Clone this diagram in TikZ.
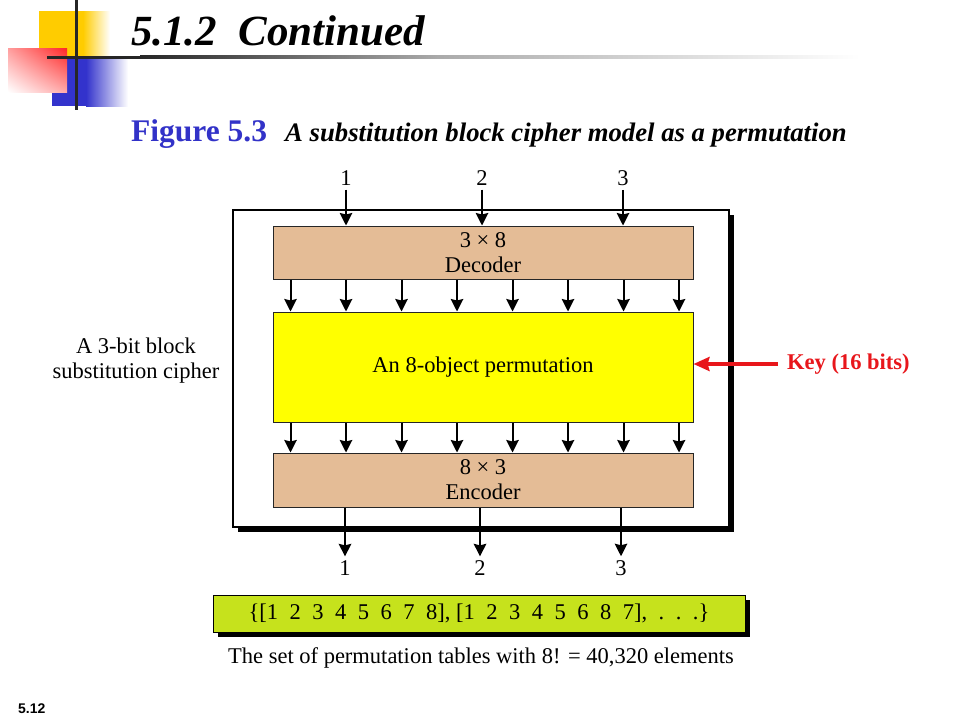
\documentclass[tikz,border=0pt]{standalone}
\usepackage{fontspec}
\setmainfont{Liberation Serif}
\newfontfamily\slidesans{Liberation Sans}
\usetikzlibrary{arrows.meta,shadows,shadings}
\definecolor{boxtan}{HTML}{E4BC96}
\definecolor{permyellow}{HTML}{FFFF00}
\definecolor{setgreen}{HTML}{C6E21C}
\definecolor{figblue}{HTML}{3232C8}
\definecolor{keyred}{HTML}{E8161B}
\definecolor{decoyellow}{HTML}{FFCC00}
\definecolor{decoblue}{HTML}{3333CC}
\definecolor{decored}{HTML}{FF2626}
\newcommand\difont{\fontsize{22.5}{25}\selectfont}
\newcommand\dgap{\hspace{11.5pt}}
\begin{document}
\begin{tikzpicture}[x=1pt,y=-1pt,
  arr/.style={-{Stealth[length=12.5pt,width=12.5pt,inset=1.5pt]}, line width=2pt},
  keyarr/.style={-{Stealth[length=16pt,width=14pt,inset=2pt]}, line width=3.6pt, draw=keyred},
  blockbox/.style={draw=black!85, line width=1pt, minimum width=420pt, inner sep=0pt, align=center, font=\difont},
  lbl/.style={font=\difont, inner sep=1pt},
  sh/.style={drop shadow={shadow xshift=5pt,shadow yshift=-5pt,opacity=1,fill=black}},
]
\useasboundingbox (0,0) rectangle (960,720);
\fill[white] (0,0) rectangle (960,720);

% decoration
\fill[decoyellow] (39,11) rectangle (83,57);
\shade[left color=decoyellow, right color=white] (83,11) rectangle (110,57);
\fill[decoblue] (52,57) rectangle (86,106);
\shade[left color=decoblue, right color=white] (86,57) rectangle (128,106);
\shade[upper left=decored!45!white, upper right=decored, lower left=white, lower right=decored!40!white] (8,48) rectangle (67,92);
\fill[black!85] (47,55.5) rectangle (140,58.5);
\shade[left color=black!85, right color=black!33] (140,55.5) rectangle (440,58.5);
\shade[left color=black!33, right color=white] (440,55.5) rectangle (860,58.5);
\draw[black!85, line width=3pt] (76,0) -- (76,110);

% titles
\node[anchor=base west, inner sep=0pt, font=\fontsize{43}{47}\selectfont\bfseries\itshape] (title) at (131,45) {5.1.2\ \ Continued};
\node[anchor=base west, inner sep=0pt, text=figblue, font=\fontsize{31.5}{35}\selectfont\bfseries] (fig) at (131,141) {Figure 5.3};
\node[anchor=base west, inner sep=0pt, font=\fontsize{26.7}{30}\selectfont\bfseries\itshape] (cap) at (285,141) {A substitution block cipher model as a permutation};

% outer box
\node[draw=black, fill=white, line width=1.3pt, minimum width=496pt, minimum height=317pt, inner sep=0pt, sh] (outer) at (481,368.5) {};

% blocks
\node[blockbox, fill=boxtan, minimum height=53pt] (dec) at (483,252.5) {3 × 8\\Decoder};
\node[blockbox, fill=permyellow, minimum height=110pt] (perm) at (483,367) {An 8-object permutation};
\node[blockbox, fill=boxtan, minimum height=54pt] (enc) at (483,480) {8 × 3\\Encoder};

% input and output labels
\node[lbl] (in1) at (346,178) {1};
\node[lbl] (in2) at (482,178) {2};
\node[lbl] (in3) at (623,178) {3};
\node[lbl] (out1) at (345,568) {1};
\node[lbl] (out2) at (480,568) {2};
\node[lbl] (out3) at (621,568) {3};
\foreach \n in {1,2,3} {
  \draw[arr, shorten <=3pt] (in\n.south) -- (in\n.south |- dec.north);
  \draw[arr, shorten >=3pt] (out\n |- enc.south) -- (out\n.north);
}

% internal connectors
\foreach \i in {0,...,7} {
  \coordinate (t\i) at ({290.5+55.5*\i},0);
  \draw[arr] (t\i |- dec.south) -- (t\i |- perm.north);
  \draw[arr] (t\i |- perm.south) -- (t\i |- enc.north);
}

% side labels
\node[lbl, align=center] (side) at (136,361) {A 3-bit block\\substitution cipher};
\node[anchor=west, inner sep=1pt, text=keyred, font=\difont\bfseries] (key) at (786,364) {Key (16 bits)};
\draw[keyarr, shorten <=8pt] (key.west) -- (perm.east |- key.west);

% set of tables
\node[draw=black, fill=setgreen, line width=1pt, minimum width=532pt, minimum height=37pt, inner sep=0pt, font=\difont, sh] (set) at (479,613.5)
  {\{[1\dgap 2\dgap 3\dgap 4\dgap 5\dgap 6\dgap 7\dgap 8], [1\dgap 2\dgap 3\dgap 4\dgap 5\dgap 6\dgap 8\dgap 7],\dgap .\dgap .\dgap .\}};
\node[lbl] (setcap) at (481,658) {The set of permutation tables with 8! = 40,320 elements};

% slide number
\node[anchor=base west, inner sep=0pt, font=\slidesans\bfseries\fontsize{14}{16}\selectfont] (num) at (18,713) {5.12};
\end{tikzpicture}
\end{document}
